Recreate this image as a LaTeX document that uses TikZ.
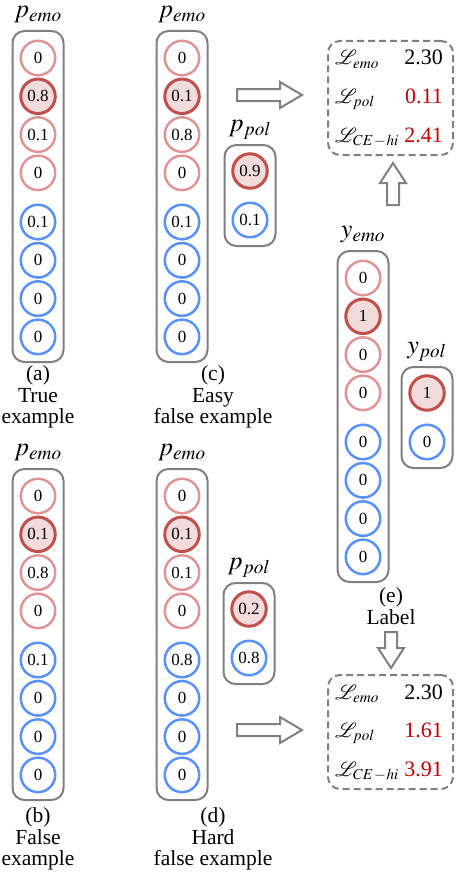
\documentclass[tikz,border=0pt]{standalone}
\usepackage{mathptmx}
\usepackage{fontspec}
\setmainfont{Liberation Serif}
\definecolor{redlight}{RGB}{221,150,148}
\definecolor{reddark}{RGB}{192,80,77}
\definecolor{redfill}{RGB}{242,220,219}
\definecolor{blueC}{RGB}{90,145,250}
\definecolor{boxgray}{RGB}{128,128,128}
\definecolor{numred}{RGB}{192,0,0}
\tikzset{
  cnum/.style={circle, minimum size=34.5pt, inner sep=0pt, line width=2.5pt, fill=white, font=\fontsize{17}{20}\selectfont},
  rl/.style={cnum, draw=redlight},
  rd/.style={cnum, draw=reddark, fill=redfill, line width=3pt},
  bl/.style={cnum, draw=blueC},
  vbox/.style={draw=boxgray, line width=2pt, rounded corners=12pt, inner sep=0pt},
  lab/.style={inner sep=0pt, font=\fontsize{26}{30}\selectfont},
  lbox/.style={draw=boxgray, line width=2pt, dash pattern=on 7pt off 4pt, rounded corners=12pt, inner sep=0pt},
  lt/.style={inner sep=0pt, font=\fontsize{22}{26}\selectfont},
  ll/.style={inner sep=0pt, font=\fontsize{20.5}{24}\selectfont},
  captext/.style={inner sep=0pt, align=center, font=\fontsize{21.5}{21.5}\selectfont},
  barrow/.style={draw=boxgray, line width=2pt, fill=white, line join=miter},
}
\newcommand\EmoCol[5]{%
  \node[vbox, minimum width=51pt, minimum height=331pt, anchor=north] (#1box) at (#2,#3) {};
  \node[lab, anchor=base] (#1lab) at (#2,#3-12.5) {#4};
  \foreach \v [count=\i] in {#5} {
    \pgfmathsetmacro\yy{#3+28+38.3*(\i-1)+(\i>4)*10.8}
    \ifnum\i=2
      \node[rd] (#1c\i) at (#2,\yy) {\v};
    \else\ifnum\i<5
      \node[rl] (#1c\i) at (#2,\yy) {\v};
    \else
      \node[bl] (#1c\i) at (#2,\yy) {\v};
    \fi\fi
  }
}
\newcommand\PolCol[6]{%
  \node[vbox, minimum width=51pt, minimum height=101pt, anchor=north] (#1box) at (#2,#3) {};
  \node[lab, anchor=base] (#1lab) at (#2,#3-13) {#4};
  \node[rd] (#1c1) at (#2,#3+27) {#5};
  \node[bl] (#1c2) at (#2,#3+76) {#6};
}
\newcommand\LossBox[5]{%
  \node[lbox, minimum width=125pt, minimum height=114pt, anchor=north west] (#1) at (327,#2) {};
  \node[ll, anchor=base west] (#1l1) at (335,#2+25) {$\mathcal{L}_{emo}$};
  \node[lt, anchor=base east] (#1v1) at (443,#2+25) {#3};
  \node[ll, anchor=base west] (#1l2) at (335,#2+63) {$\mathcal{L}_{pol}$};
  \node[lt, anchor=base east, text=numred] (#1v2) at (443,#2+63) {#4};
  \node[ll, anchor=base west] (#1l3) at (335,#2+102) {$\mathcal{L}_{CE\mkern1mu{-}\mkern1mu hi}$};
  \node[lt, anchor=base east, text=numred] (#1v3) at (443,#2+102) {#5};
}
\begin{document}
\begin{tikzpicture}[x=1pt,y=-1pt]
\useasboundingbox (0,0) rectangle (457,875);
% columns
\EmoCol{a}{38}{30}{$p_{emo}$}{0,0.8,0.1,0,0.1,0,0,0}
\EmoCol{c}{182}{30}{$p_{emo}$}{0,0.1,0.8,0,0.1,0,0,0}
\PolCol{cp}{250}{144}{$p_{pol}$}{0.9}{0.1}
\EmoCol{b}{38}{468}{$p_{emo}$}{0,0.1,0.8,0,0.1,0,0,0}
\EmoCol{d}{182}{468}{$p_{emo}$}{0,0.1,0.1,0,0.8,0,0,0}
\PolCol{dp}{249}{582}{$p_{pol}$}{0.2}{0.8}
\EmoCol{e}{363}{250}{$y_{emo}$}{0,1,0,0,0,0,0,0}
\PolCol{ep}{427}{366}{$y_{pol}$}{1}{0}
% loss boxes
\LossBox{L1}{40}{2.30}{0.11}{2.41}
\LossBox{L2}{674}{2.30}{1.61}{3.91}
% captions
\node[captext] (capa) at (38,397) {(a)\\True\\example};
\node[captext] (capc) at (213,397) {(c)\\Easy\\false example};
\node[captext] (capb) at (38,839) {(b)\\False\\example};
\node[captext] (capd) at (213,839) {(d)\\Hard\\false example};
\node[captext] (cape) at (391,606) {(e)\\Label};
% block arrows
\draw[barrow, shift={(237,95)}] (0,-6) -- (43,-6) -- (43,-13) -- (65,0) -- (43,13) -- (43,6) -- (0,6) -- cycle;
\draw[barrow, shift={(237,730)}] (0,-6) -- (43,-6) -- (43,-13) -- (65,0) -- (43,13) -- (43,6) -- (0,6) -- cycle;
\draw[barrow, shift={(393,205)}] (-6,0) -- (-6,-22) -- (-13,-22) -- (0,-42) -- (13,-22) -- (6,-22) -- (6,0) -- cycle;
\draw[barrow, shift={(391,632)}] (-6,0) -- (-6,16) -- (-13,16) -- (0,36) -- (13,16) -- (6,16) -- (6,0) -- cycle;
\end{tikzpicture}
\end{document}
